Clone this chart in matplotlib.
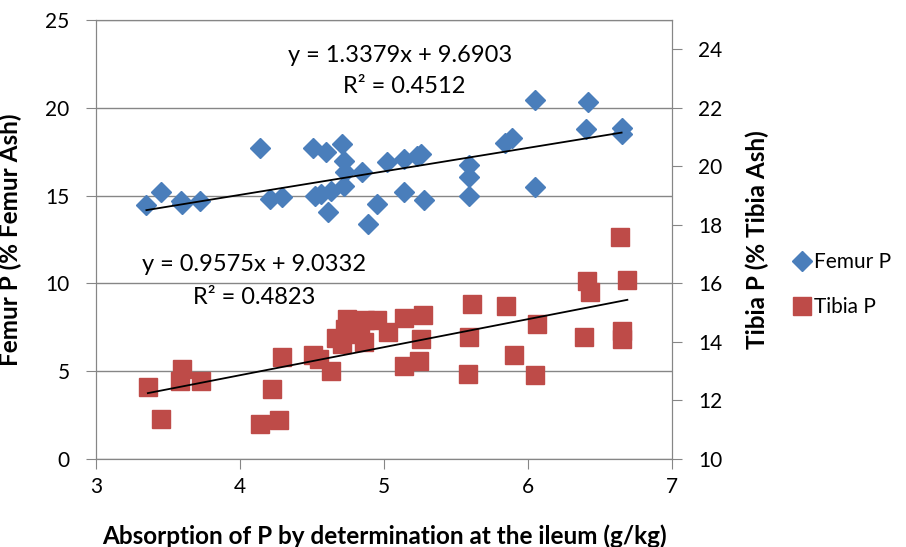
import matplotlib
matplotlib.use("Agg")
import matplotlib.pyplot as plt
from matplotlib.lines import Line2D
import numpy as np

plt.rcParams['font.family'] = ['Lato', 'DejaVu Sans']

# absorption of P (g/kg) and femur P (% femur ash)
femur_x = [3.35, 3.45, 3.59, 3.60, 3.72, 4.14, 4.21, 4.29, 4.51, 4.60, 4.71, 4.72,
           4.73, 4.72, 4.52, 4.56, 4.63, 4.61, 4.85, 4.95, 4.89, 5.02, 5.14, 5.14,
           5.23, 5.26, 5.28, 5.59, 5.59, 5.59, 5.84, 5.89, 6.05, 6.05, 6.40, 6.42,
           6.65, 6.65]
femur_y = [14.47, 15.19, 14.71, 14.5, 14.71, 17.71, 14.81, 14.9, 17.73, 17.48, 17.96, 16.97,
           16.34, 15.57, 15.0, 15.1, 15.29, 14.05, 16.37, 14.52, 13.38, 16.91, 17.06, 15.19,
           17.25, 17.39, 14.75, 16.72, 16.05, 15.0, 18.0, 18.28, 20.44, 15.48, 18.82, 20.34,
           18.85, 18.53]

# absorption of P (g/kg) and tibia P (% tibia ash)
tibia_x = [3.36, 3.45, 3.60, 3.58, 3.73, 4.22, 4.14, 4.27, 4.29, 4.51, 4.55, 4.63,
           4.71, 4.74, 4.73, 4.67, 4.87, 4.86, 4.83, 4.95, 5.03, 5.14, 5.27, 5.26,
           5.14, 5.24, 5.61, 5.59, 5.58, 5.85, 5.90, 6.06, 6.05, 6.41, 6.43, 6.39,
           6.64, 6.69, 6.65, 6.65]
tibia_y = [12.45, 11.36, 13.06, 12.66, 12.66, 12.40, 11.21, 11.33, 13.47, 13.55, 13.41, 13.0,
           13.93, 14.8, 14.45, 14.13, 14.76, 13.99, 14.28, 14.74, 14.34, 14.83, 14.91, 14.10,
           13.18, 13.35, 15.29, 14.16, 12.91, 15.23, 13.55, 14.62, 12.87, 16.07, 15.69, 14.16,
           17.6, 16.13, 14.39, 14.10]

# linear trendlines (slope, intercept) as reported
femur_fit = (1.3379, 9.6903)
tibia_fit = (0.9575, 9.0332)
femur_eq = ["y = 1.3379x + 9.6903", "R² = 0.4512"]
tibia_eq = ["y = 0.9575x + 9.0332", "R² = 0.4823"]

blue = '#4A7EBB'
red = '#BE4B48'
grey = '#868686'

fig = plt.figure(figsize=(9.06, 5.47), dpi=100)
ax = fig.add_axes([96 / 906, 1 - 459 / 547, (672 - 96) / 906, (459 - 20) / 547])
ax2 = ax.twinx()

ax.plot(femur_x, femur_y, 'D', color=blue, ms=10.5, mec=blue, zorder=3)
ax2.plot(tibia_x, tibia_y, 's', color=red, ms=12.5, mec=red, zorder=3)

fx = np.array([min(femur_x), max(femur_x)])
ax.plot(fx, femur_fit[0] * fx + femur_fit[1], color='black', lw=1.3, zorder=4)
tx = np.array([min(tibia_x), max(tibia_x)])
ax2.plot(tx, tibia_fit[0] * tx + tibia_fit[1], color='black', lw=1.3, zorder=4)

ax.text(5.11, 23.0, femur_eq[0], ha='center', va='center', fontsize=17)
ax.text(5.14, 21.2, femur_eq[1], ha='center', va='center', fontsize=17)
ax.text(4.10, 11.05, tibia_eq[0], ha='center', va='center', fontsize=17)
ax.text(4.10, 9.17, tibia_eq[1], ha='center', va='center', fontsize=17)

ax.set_xlim(3, 7)
ax.set_ylim(0, 25)
ax2.set_ylim(10, 25)
ax.set_xticks([3, 4, 5, 6, 7])
ax.set_yticks([0, 5, 10, 15, 20, 25])
ax2.set_yticks([10, 12, 14, 16, 18, 20, 22, 24])
ax.yaxis.grid(True, color=grey, lw=1)
ax.set_axisbelow(True)

for a in (ax, ax2):
    for s in a.spines.values():
        s.set_color(grey)
    a.tick_params(colors=grey, labelcolor='black', labelsize=15, length=7,
                  direction='out', pad=12)
ax.tick_params(axis='x', pad=6)

ax.set_xlabel('Absorption of P by determination at the ileum (g/kg)', fontsize=17.5,
              fontweight='bold')
ax.set_ylabel('Femur P (% Femur Ash)', fontsize=17.5, fontweight='bold')
ax2.set_ylabel('Tibia P (% Tibia Ash)', fontsize=17.5, fontweight='bold')
ax.xaxis.set_label_coords(0.5, -0.148)
ax.yaxis.set_label_coords(-0.128, 0.5)
ax2.yaxis.set_label_coords(1.127, 0.5)

handles = [Line2D([], [], ls='', marker='D', color=blue, ms=10.5),
           Line2D([], [], ls='', marker='s', color=red, ms=12.5)]
fig.legend(handles, ['Femur P', 'Tibia P'], loc='center left',
           bbox_to_anchor=(0.862, 0.48), frameon=False, fontsize=15,
           handletextpad=0.1, labelspacing=1.2, handlelength=1.0, borderpad=0)

fig.savefig('out.png', dpi=100)
